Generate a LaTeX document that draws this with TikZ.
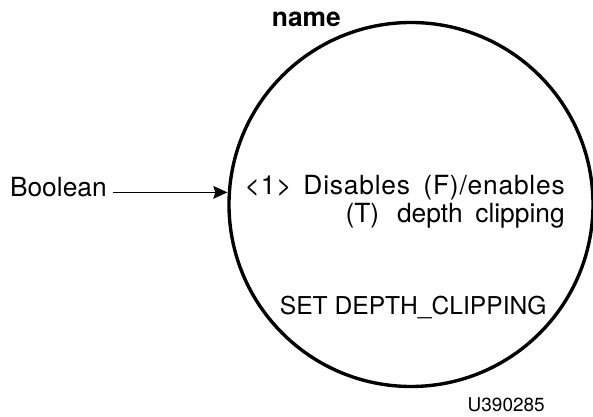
\documentclass[tikz,border=0pt]{standalone}
\usepackage{fontspec}
\setmainfont{TeX Gyre Heros}
\usepackage{tikz}
\usetikzlibrary{arrows.meta}
\usetikzlibrary{positioning}
\tikzset{txt/.style = {inner sep = 0, font = \fontsize{18.75}{22}\selectfont}}
\tikzset{inarrow/.style = {-{Stealth[length=0.35cm, width=0.32cm, inset=0.05cm]}, line width = 0.75pt}}
\tikzset{ring/.style = {draw, circle, line width = 2.4pt, minimum size = 9.1cm, inner sep = 0}}

\begin{document}
\begin{tikzpicture}
    \useasboundingbox (0, 0) rectangle (14.825, 10.425);

    \node [ring] (circ) at (10.275, 5.3125) {};
    \node [inner sep = 0, anchor=base, font=\fontsize{18.75}{22}\selectfont\bfseries] (name) at (7.66, 9.75) {name};

    \node [txt, anchor=base east] (bool) at (2.675, 5.5) {Boolean};
    \draw [inarrow] ([xshift=0.15cm, yshift=-0.12cm]bool.east) -- ([yshift=-0.12cm]bool.east -| circ.west);

    \node [txt, anchor=base east, font=\fontsize{18.75}{22}\selectfont\addfontfeatures{LetterSpace=3}] (descr1) at (14.125, 5.55) {<1>\hspace{0.45em}Disables\hspace{0.2em} (F)/enables};
    \node [txt, anchor=base east] (descr2) at (14.125, 4.85) {(T)\hspace{0.4em} depth\hspace{0.2em} clipping};
    \node [inner sep = 0, anchor=base, font=\fontsize{17.5}{21}\selectfont] (setname) at (10.33, 2.55) {SET DEPTH\_CLIPPING};

    \node [inner sep = 0, anchor=base east, font=\fontsize{13.5}{15}\selectfont] (code) at (13.625, 0.125) {U390285};
\end{tikzpicture}
\end{document}
